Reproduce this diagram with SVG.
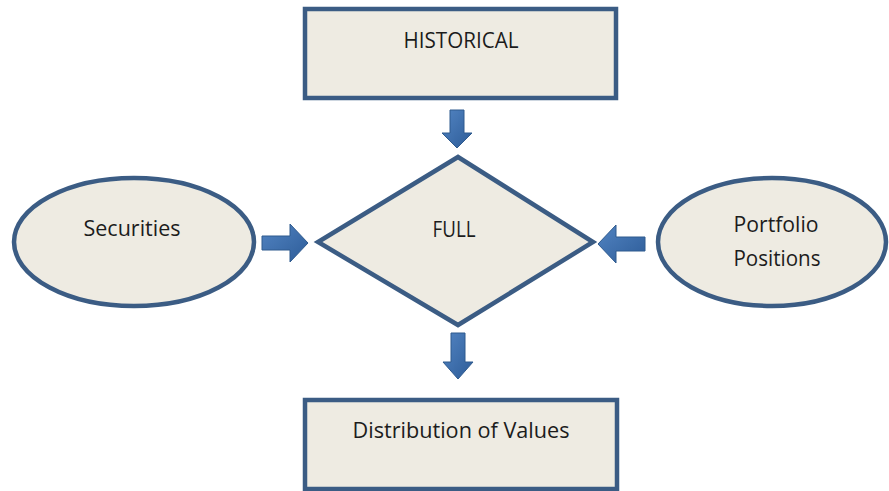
<svg xmlns="http://www.w3.org/2000/svg" width="889" height="491" viewBox="0 0 889 491">
  <style>
    .shape { fill: #eeebe2; stroke: #3b5c84; stroke-width: 4.5; }
    .label { font-family: "Open Sans", Lato, "Liberation Sans", sans-serif; font-size: 22px; fill: #1c1c1c; text-anchor: middle; }
    .arrow { fill: url(#arrowFill); stroke: #2e5a8e; stroke-width: 1; }
  </style>
  <defs>
    <linearGradient id="arrowFill" x1="0" y1="0" x2="1" y2="1">
      <stop offset="0" stop-color="#5284c2"/>
      <stop offset="1" stop-color="#2d5c98"/>
    </linearGradient>
  </defs>
  <rect width="889" height="491" fill="#ffffff"/>

  <g id="historical">
    <rect class="shape" x="305" y="9" width="311" height="89"/>
    <text class="label" x="461" y="48" textLength="115" lengthAdjust="spacingAndGlyphs">HISTORICAL</text>
  </g>

  <g id="full">
    <polygon class="shape" points="458,157 593,242 458,325 318,242"/>
    <text class="label" x="454" y="237" textLength="43" lengthAdjust="spacingAndGlyphs">FULL</text>
  </g>

  <g id="securities">
    <ellipse class="shape" cx="134" cy="242" rx="120" ry="64"/>
    <text class="label" x="132" y="236" textLength="97" lengthAdjust="spacingAndGlyphs">Securities</text>
  </g>

  <g id="portfolio-positions">
    <ellipse class="shape" cx="772" cy="242" rx="114" ry="64"/>
    <text class="label" x="776" y="232" textLength="85" lengthAdjust="spacingAndGlyphs">Portfolio</text>
    <text class="label" x="777" y="266" textLength="87" lengthAdjust="spacingAndGlyphs">Positions</text>
  </g>

  <g id="distribution">
    <rect class="shape" x="305" y="400" width="312" height="89"/>
    <text class="label" x="461" y="438" textLength="217" lengthAdjust="spacingAndGlyphs">Distribution of Values</text>
  </g>

  <g id="connectors">
    <!-- HISTORICAL down to FULL -->
    <polygon class="arrow" points="450,110 464,110 464,133 472,133 457,148 442,133 450,133"/>
    <!-- Securities right to FULL -->
    <polygon class="arrow" points="262,236 290,236 290,224 308,243 290,262 290,250 262,250"/>
    <!-- Portfolio Positions left to FULL -->
    <polygon class="arrow" points="645,237 616,237 616,225 598,244 616,263 616,251 645,251"/>
    <!-- FULL down to Distribution of Values -->
    <polygon class="arrow" points="451,333 465,333 465,362 473,362 458,379 443,362 451,362"/>
  </g>
</svg>
